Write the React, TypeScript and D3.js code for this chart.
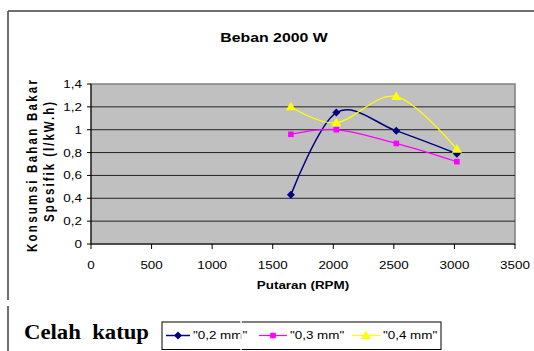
import * as d3 from 'd3';

// Beban 2000 W — konsumsi bahan bakar spesifik vs putaran
const rpm = [1650, 2025, 2520, 3020];
const celah02 = [0.43, 1.15, 0.99, 0.79];
const celah03 = [0.96, 1.0, 0.88, 0.72];
const celah04 = [1.2, 1.06, 1.29, 0.83];
const seriesNames = ['"0,2 mm"', '"0,3 mm"', '"0,4 mm"'];
const xTicks = [0, 500, 1000, 1500, 2000, 2500, 3000, 3500];
const yTicks = [0, 0.2, 0.4, 0.6, 0.8, 1, 1.2, 1.4];

const W = 534;
const H = 351;
const plot = { left: 91, right: 515, top: 84, bottom: 244 };
const SX = 1.22; // the picture is stretched horizontally
const FONT = 'Arial, "Liberation Sans", sans-serif';

type Pt = { x: number; y: number };

function Marker({ kind, x, y }: { kind: string; x: number; y: number }) {
  if (kind === 'diamond') {
    const r = 4;
    return <path d={`M${x},${y - r}L${x + r},${y}L${x},${y + r}L${x - r},${y}Z`} fill="#000080" />;
  }
  if (kind === 'square') {
    return <rect x={x - 2.8} y={y - 2.8} width={5.6} height={5.6} fill="#FF00FF" />;
  }
  return <path d={`M${x},${y - 5}L${x + 5},${y + 3.5}L${x - 5},${y + 3.5}Z`} fill="#FFFF00" />;
}

export default function App() {
  const x = d3.scaleLinear().domain([0, 3500]).range([plot.left, plot.right]);
  const y = d3.scaleLinear().domain([0, 1.4]).range([plot.bottom, plot.top]);

  const line = d3
    .line<Pt>()
    .x((d) => x(d.x))
    .y((d) => y(d.y))
    .curve(d3.curveCardinal.tension(0));

  const series = [
    { name: seriesNames[0], values: celah02, color: '#000080', width: 1.5, kind: 'diamond' },
    { name: seriesNames[1], values: celah03, color: '#FF00FF', width: 1.2, kind: 'square' },
    { name: seriesNames[2], values: celah04, color: '#FFFF00', width: 1.2, kind: 'triangle' },
  ];

  const fmt = (v: number) => String(+v.toFixed(1)).replace('.', ',');

  // legend sample positions
  const legendItems = [
    { x1: 166, x2: 190, tx: 193 },
    { x1: 259, x2: 287, tx: 290 },
    { x1: 352, x2: 380, tx: 383 },
  ];
  const legY = 335.5;

  return (
    <svg
      width={W}
      height={H}
      style={{ position: 'absolute', left: 0, top: 0, background: '#fff' }}
      fontFamily={FONT}
    >
      <rect width={W} height={H} fill="#fff" />

      {/* outer frame */}
      <line x1={8} y1={11} x2={W} y2={11} stroke="#404040" strokeWidth={1.5} />
      <line x1={8} y1={11} x2={8} y2={300} stroke="#404040" strokeWidth={1.5} />
      <line x1={8} y1={306} x2={8} y2={H} stroke="#404040" strokeWidth={1.5} />

      {/* title */}
      <text
        transform={`translate(${274},${42}) scale(${SX},1)`}
        textAnchor="middle"
        fontSize={13}
        fontWeight="bold"
      >
        Beban 2000 W
      </text>

      {/* plot area */}
      <rect
        x={plot.left}
        y={plot.top}
        width={plot.right - plot.left}
        height={plot.bottom - plot.top}
        fill="#C0C0C0"
        stroke="#808080"
        strokeWidth={1.5}
      />
      {yTicks.slice(1, -1).map((t) => (
        <line key={t} x1={plot.left} x2={plot.right} y1={y(t)} y2={y(t)} stroke="#222" strokeWidth={1} />
      ))}

      {/* axes */}
      <line x1={plot.left} x2={plot.left} y1={plot.top} y2={plot.bottom} stroke="#000" strokeWidth={1} />
      <line x1={plot.left} x2={plot.right} y1={plot.bottom} y2={plot.bottom} stroke="#000" strokeWidth={1} />
      {yTicks.map((t) => (
        <g key={'y' + t}>
          <line x1={plot.left - 4} x2={plot.left} y1={y(t)} y2={y(t)} stroke="#000" />
          <text
            transform={`translate(${plot.left - 9},${y(t) + 4}) scale(${SX},1)`}
            textAnchor="end"
            fontSize={11}
          >
            {fmt(t)}
          </text>
        </g>
      ))}
      {xTicks.map((t) => (
        <g key={'x' + t}>
          <line x1={x(t)} x2={x(t)} y1={plot.bottom} y2={plot.bottom + 5} stroke="#000" />
          <text
            transform={`translate(${x(t)},${269}) scale(${SX},1)`}
            textAnchor="middle"
            fontSize={11}
          >
            {t}
          </text>
        </g>
      ))}

      {/* axis titles */}
      <text
        transform={`translate(${303},${289}) scale(${SX},1)`}
        textAnchor="middle"
        fontSize={11}
        fontWeight="bold"
      >
        Putaran (RPM)
      </text>
      <text
        transform={`translate(${37},${166}) scale(${SX},1) rotate(-90)`}
        textAnchor="middle"
        fontSize={11.5}
        fontWeight="bold"
        textLength={172}
        lengthAdjust="spacing"
      >
        Konsumsi Bahan Bakar
      </text>
      <text
        transform={`translate(${53.5},${162}) scale(${SX},1) rotate(-90)`}
        textAnchor="middle"
        fontSize={11.5}
        fontWeight="bold"
        textLength={120}
        lengthAdjust="spacing"
      >
        Spesifik (l/kW.h)
      </text>

      {/* series */}
      {series.map((s) => {
        const pts: Pt[] = rpm.map((r, i) => ({ x: r, y: s.values[i] }));
        return (
          <g key={s.name}>
            <path d={line(pts) ?? ''} fill="none" stroke={s.color} strokeWidth={s.width} />
            {pts.map((p, i) => (
              <Marker key={i} kind={s.kind} x={x(p.x)} y={y(p.y)} />
            ))}
          </g>
        );
      })}

      {/* legend */}
      <text
        x={24}
        y={339}
        fontFamily='"Times New Roman", "Liberation Serif", serif'
        fontSize={21}
        fontWeight="bold"
        textLength={125}
        lengthAdjust="spacingAndGlyphs"
        style={{ whiteSpace: 'pre' }}
      >
        {'Celah  katup'}
      </text>
      <rect x={162} y={322} width={279} height={27.5} fill="#fff" stroke="#000" strokeWidth={1} />
      {series.map((s, i) => {
        const it = legendItems[i];
        return (
          <g key={'leg' + i}>
            <line x1={it.x1} x2={it.x2} y1={legY} y2={legY} stroke={s.color} strokeWidth={s.width} />
            <Marker kind={s.kind} x={(it.x1 + it.x2) / 2} y={legY} />
            <text transform={`translate(${it.tx},${legY + 3.5}) scale(${SX},1)`} fontSize={11}>
              {s.name}
            </text>
          </g>
        );
      })}
      <line x1={241} x2={241} y1={300} y2={H} stroke="#fff" strokeWidth={1.5} />
    </svg>
  );
}
